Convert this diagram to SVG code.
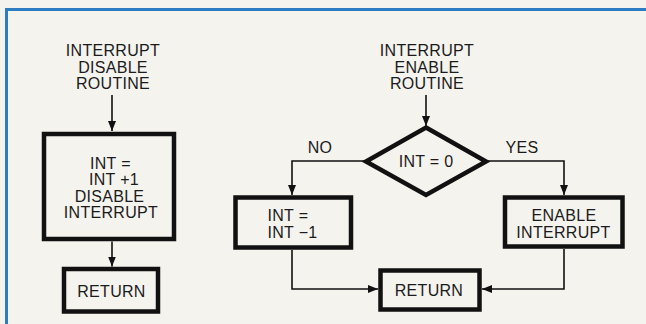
<svg xmlns="http://www.w3.org/2000/svg" width="646" height="324" viewBox="0 0 646 324">
<defs>
<style>
.t{font-family:"Liberation Sans",Arial,sans-serif;font-size:16px;letter-spacing:0.3px;fill:#1b1b1b}
.m{text-anchor:middle}
.box{fill:none;stroke:#111;stroke-width:4.5}
.ln{fill:none;stroke:#111;stroke-width:1.6}
.bd{stroke:#2c7cc3;stroke-width:3;fill:none}
</style>
<marker id="ah" markerUnits="userSpaceOnUse" markerWidth="10" markerHeight="10" refX="10" refY="5" orient="auto">
<path d="M0,1 L10,5 L0,9 Z" fill="#111"/>
</marker>
</defs>
<rect width="646" height="324" fill="#f5f3ee"/>
<line class="bd" x1="6.5" y1="8" x2="6.5" y2="324"/>
<line class="bd" x1="5" y1="9.5" x2="646" y2="9.5"/>

<g id="connectors">
<path class="ln" d="M112,95 V131" marker-end="url(#ah)"/>
<path class="ln" d="M112,241.5 V266.5" marker-end="url(#ah)"/>
<path class="ln" d="M426,95 V126" marker-end="url(#ah)"/>
<path class="ln" d="M365,161 H292 V195" marker-end="url(#ah)"/>
<path class="ln" d="M487,161 H564 V195" marker-end="url(#ah)"/>
<path class="ln" d="M292,250 V289 H378" marker-end="url(#ah)"/>
<path class="ln" d="M564,249 V289 H482" marker-end="url(#ah)"/>
<text class="t m" x="320" y="152.5">NO</text>
<text class="t m" x="522" y="152.5">YES</text>
</g>

<g id="disable-title">
<text class="t m" x="113" y="56">INTERRUPT</text>
<text class="t m" x="113" y="72.5">DISABLE</text>
<text class="t m" x="113" y="89">ROUTINE</text>
</g>
<g id="disable-box">
<rect class="box" x="44" y="134" width="130" height="105"/>
<text class="t" x="90" y="168.5">INT =</text>
<text class="t" x="89" y="185">INT +1</text>
<text class="t m" x="109.5" y="201.5">DISABLE</text>
<text class="t m" x="111" y="218">INTERRUPT</text>
</g>
<g id="return-left">
<rect class="box" x="64" y="269" width="94" height="42.5"/>
<text class="t m" x="111.5" y="296.5">RETURN</text>
</g>

<g id="enable-title">
<text class="t m" x="427" y="56">INTERRUPT</text>
<text class="t m" x="427" y="72.5">ENABLE</text>
<text class="t m" x="427" y="89">ROUTINE</text>
</g>
<g id="decision">
<polygon class="box" points="426,127.5 486,161.5 426,195 366,161.5"/>
<text class="t m" x="426" y="166.5">INT = 0</text>
</g>
<g id="decrement-box">
<rect class="box" x="235.5" y="197.5" width="115.5" height="50"/>
<text class="t" x="267.5" y="221">INT =</text>
<text class="t" x="267.5" y="238">INT −1</text>
</g>
<g id="enable-box">
<rect class="box" x="505" y="197.5" width="117.5" height="49"/>
<text class="t m" x="564" y="221">ENABLE</text>
<text class="t m" x="563.5" y="238">INTERRUPT</text>
</g>
<g id="return-right">
<rect class="box" x="380.5" y="270.5" width="99" height="39"/>
<text class="t m" x="429" y="296">RETURN</text>
</g>
</svg>
